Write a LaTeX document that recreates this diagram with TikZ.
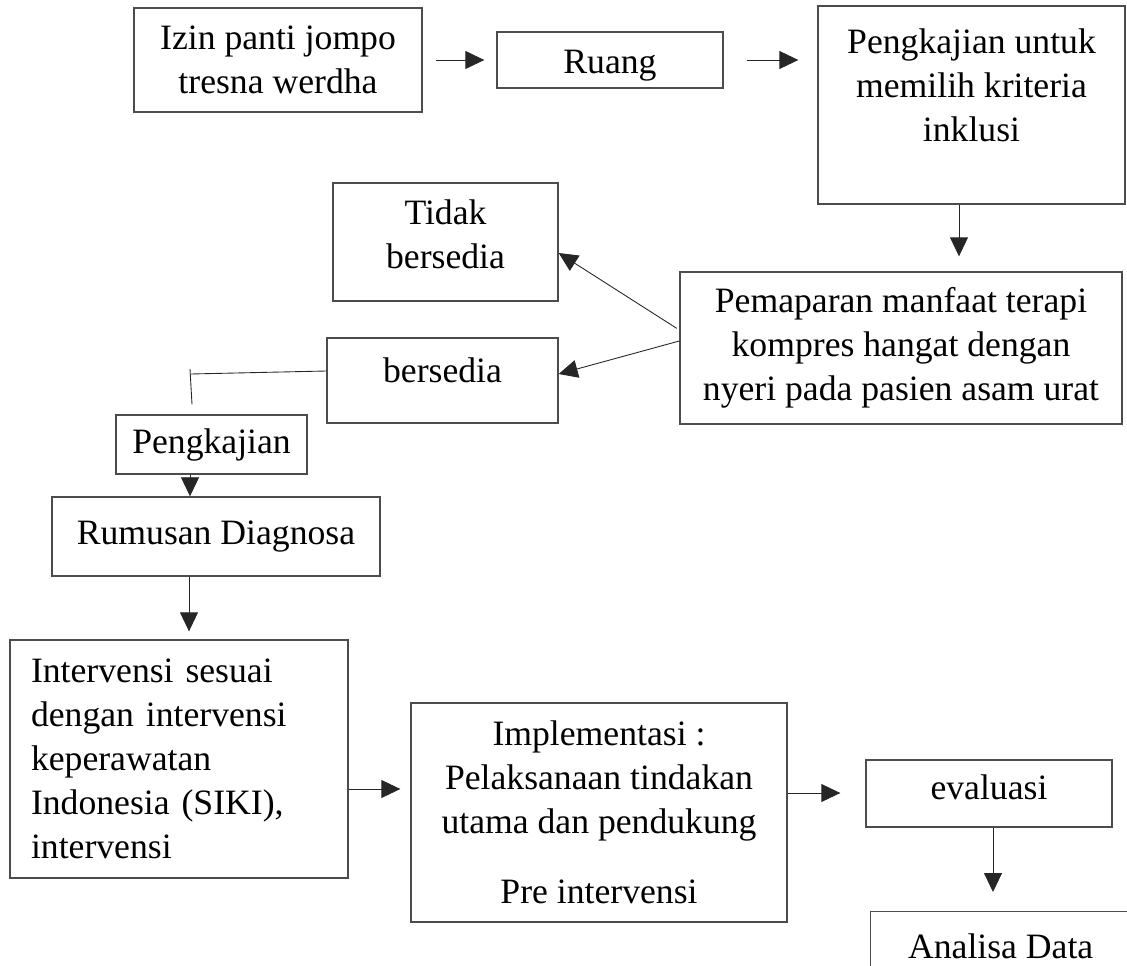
\documentclass[tikz,border=0pt]{standalone}
\usepackage{fontspec}
\setmainfont{Liberation Serif}
\usetikzlibrary{arrows, arrows.meta, positioning}

\begin{document}
\begin{tikzpicture}[->,>={Triangle[length=0.38cm,width=0.36cm]}, x=0.02cm, y=-0.02cm, line width=0.5pt]
    \tikzstyle{every node}=[font=\fontsize{20.3}{25}\selectfont]
    \tikzstyle{blok}=[shape=rectangle, fill=none, draw=black!70, line width=0.8pt, text=black, align=center, inner sep=0pt]
    \tikzstyle{panah}=[draw=black!85, line width=0.5pt]

    \useasboundingbox (0,0) rectangle (1127,966);

    \node[blok, minimum width=5.76cm, minimum height=2.08cm]  (s1) at (278,60)    {Izin panti jompo\\tresna werdha};
    \node[blok, minimum width=4.52cm, minimum height=1.12cm, text height=0.7cm, text depth=0.15cm]  (s2) at (610,60)    {Ruang};
    \node[blok, minimum width=6.14cm, minimum height=3.96cm, text depth=0.8cm]  (s3) at (971.5,105)    {Pengkajian untuk\\memilih kriteria\\inklusi};
    \node[blok, minimum width=4.5cm, minimum height=2.36cm, text depth=0.32cm]  (s4) at (445.5,242)    {Tidak\\bersedia};
    \node[blok, minimum width=8.84cm, minimum height=3.04cm]  (s5) at (901,348)    {Pemaparan manfaat terapi\\kompres hangat dengan\\nyeri pada pasien asam urat};
    \node[blok, minimum width=4.62cm, minimum height=1.7cm, text depth=0.4cm]  (s6) at (442.5,380.5)    {bersedia};
    \node[blok, minimum width=3.82cm, minimum height=1.18cm]  (s7) at (211.5,444.5)    {Pengkajian};
    \node[blok, minimum width=6.56cm, minimum height=1.58cm]  (s8) at (216,536.5)    {Rumusan Diagnosa};
    \node[blok, align=left, text width=6.36cm, inner xsep=0.2cm, minimum height=4.76cm]  (s9) at (179,759)    {\hspace*{0.22cm}Intervensi sesuai\\\hspace*{0.22cm}dengan intervensi\\\hspace*{0.22cm}keperawatan\\\hspace*{0.22cm}Indonesia (SIKI),\\\hspace*{0.22cm}intervensi};
    \node[blok, minimum width=7.52cm, minimum height=4.38cm]  (s10) at (599,812.5)    {Implementasi :\\Pelaksanaan tindakan\\utama dan pendukung\\[0.52cm]Pre intervensi};
    \node[blok, minimum width=4.92cm, minimum height=1.34cm, text depth=0.26cm]  (s11) at (989,793.5)    {evaluasi};
    \node[blok, anchor=north west, minimum width=5.2cm, minimum height=1.4cm]  (s12) at (870,911)    {Analisa Data};

    \coordinate (t1) at (191,374);
    \coordinate (t2) at (190,369);

    \path
    (s1)    edge[panah, shorten <=0.26cm, shorten >=0.24cm]   node{} (s2)
    (s2)    edge[panah, shorten <=0.46cm, shorten >=0.38cm]   node{} (s2 -| s3.west)
    ([xshift=-0.25cm]s3.south)    edge[panah, shorten >=0.3cm]   node{} ([xshift=-0.25cm]s3.south |- s5.north)
    ([yshift=0.36cm]s5.west)    edge[panah, shorten <=0.06cm]   node{} ([yshift=-0.22cm]s4.east)
    ([yshift=0.14cm]s5.west)    edge[panah]   node{} ([yshift=0.13cm]s6.east)
    ([xshift=-0.43cm]s7.south)    edge[panah]   node{} ([xshift=-0.43cm]s7.south |- s8.north)
    ([xshift=-0.54cm]s8.south)    edge[panah, shorten >=0.16cm]   node{} ([xshift=-0.54cm]s8.south |- s9.north)
    ([yshift=-0.6cm]s9.east)    edge[panah, shorten >=0.2cm]   node{} ([yshift=-0.6cm]s9.east -| s10.west)
    ([yshift=0.39cm]s10.east)    edge[panah, shorten >=0.5cm]   node{} ([yshift=0.39cm]s10.east -| s11.west)
    ([xshift=0.08cm]s11.south)    edge[panah, shorten >=0.38cm]   node{} ([xshift=0.08cm]s11.south |- s12.north)
            ;

    \draw[-, panah] ([yshift=0.19cm]s6.west) -- (t1);
    \draw[-, panah] (t2) -- ([xshift=-0.39cm, yshift=0.2cm]s7.north);

\end{tikzpicture}
\end{document}
